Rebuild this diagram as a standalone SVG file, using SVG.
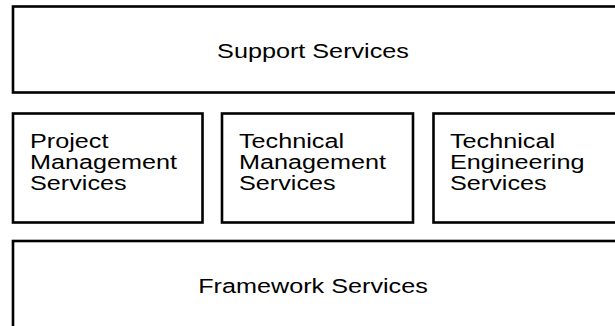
<svg xmlns="http://www.w3.org/2000/svg" width="615" height="326" viewBox="0 0 615 326">
<style>
.box{fill:#fff;stroke:#000;stroke-width:2.6}
.t{font-family:"Liberation Sans",Arial,sans-serif;font-size:21px;fill:#000}
.c{text-anchor:middle}
</style>
<rect width="615" height="326" fill="#fff"/>
<g id="support">
<rect class="box" x="13" y="6.5" width="620" height="86"/>
<text class="t c" transform="translate(313 0) scale(1.2 1)" x="0" y="58">Support Services</text>
</g>
<g id="project-management">
<rect class="box" x="13" y="113.5" width="189.5" height="109"/>
<text class="t" transform="translate(30 0) scale(1.2 1)"><tspan x="0" y="148">Project</tspan><tspan x="0" y="169">Management</tspan><tspan x="0" y="190">Services</tspan></text>
</g>
<g id="technical-management">
<rect class="box" x="222" y="113.5" width="191" height="109"/>
<text class="t" transform="translate(239 0) scale(1.2 1)"><tspan x="0" y="148">Technical</tspan><tspan x="0" y="169">Management</tspan><tspan x="0" y="190">Services</tspan></text>
</g>
<g id="technical-engineering">
<rect class="box" x="433.5" y="113.5" width="200" height="109"/>
<text class="t" transform="translate(450 0) scale(1.2 1)"><tspan x="0" y="148">Technical</tspan><tspan x="0" y="169">Engineering</tspan><tspan x="0" y="190">Services</tspan></text>
</g>
<g id="framework">
<rect class="box" x="13" y="241" width="620" height="100"/>
<text class="t c" transform="translate(313 0) scale(1.2 1)" x="0" y="293">Framework Services</text>
</g>
<g id="connectors"></g>
</svg>
